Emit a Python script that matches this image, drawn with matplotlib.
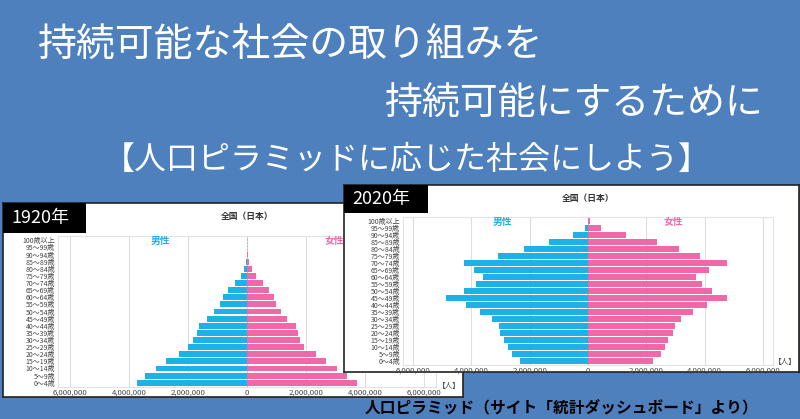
### population pyramid slide: 1920 vs 2020 (Japan)
import numpy as np
import matplotlib
matplotlib.use('Agg')
import matplotlib.pyplot as plt
from matplotlib.ticker import FuncFormatter

plt.rcParams['font.family'] = ['Noto Sans CJK JP', 'DejaVu Sans']

# age groups, bottom to top
ages = ['0～4歳', '5～9歳', '10～14歳', '15～19歳', '20～24歳', '25～29歳',
        '30～34歳', '35～39歳', '40～44歳', '45～49歳', '50～54歳', '55～59歳',
        '60～64歳', '65～69歳', '70～74歳', '75～79歳', '80～84歳', '85～89歳',
        '90～94歳', '95～99歳', '100歳以上']

# populations in millions
male_1920 = [3.74, 3.46, 3.08, 2.74, 2.31, 2.00, 1.83, 1.71, 1.63, 1.34, 1.13,
             0.92, 0.82, 0.63, 0.42, 0.21, 0.10, 0.03, 0.01, 0.005, 0.002]
female_1920 = [3.72, 3.40, 3.04, 2.68, 2.32, 1.94, 1.80, 1.74, 1.65, 1.35, 1.16,
               0.97, 0.90, 0.74, 0.55, 0.32, 0.16, 0.07, 0.03, 0.01, 0.003]
male_2020 = [2.33, 2.61, 2.74, 2.88, 3.02, 3.07, 3.30, 3.70, 4.18, 4.86, 4.27,
             3.85, 3.60, 3.91, 4.25, 3.09, 2.21, 1.33, 0.53, 0.11, 0.01]
female_2020 = [2.23, 2.49, 2.63, 2.74, 2.91, 2.97, 3.19, 3.60, 4.10, 4.78, 4.25,
               3.91, 3.69, 4.15, 4.77, 3.83, 3.11, 2.38, 1.31, 0.43, 0.07]

xticks = [-6e6, -4e6, -2e6, 0, 2e6, 4e6, 6e6]

BG = '#4E80BE'
BLUE = '#1DB1E8'
PINK = '#F068A8'
W, H = 800, 419

fig = plt.figure(figsize=(W / 100, H / 100), dpi=100, facecolor=BG)


def px(x0, y0, x1, y1):
    # pixel box (top-left origin) -> figure fraction rect
    return [x0 / W, 1 - y1 / H, (x1 - x0) / W, (y1 - y0) / H]


def panel(box, plotbox, label_box, label, male, female, xlim, ren_xy, title_y):
    bg = fig.add_axes(px(*box))
    bg.set_facecolor('white')
    bg.set_xticks([])
    bg.set_yticks([])
    for s in bg.spines.values():
        s.set_color('#222222')
        s.set_linewidth(1.2)

    ax = fig.add_axes(px(*plotbox))
    y = np.arange(len(ages))
    ax.barh(y, -np.array(male) * 1e6, height=0.82, color=BLUE, zorder=3)
    ax.barh(y, np.array(female) * 1e6, height=0.82, color=PINK, zorder=3)
    ax.set_xlim(-xlim, xlim)
    ax.set_ylim(-0.6, len(ages) - 0.4)
    ax.set_xticks(xticks)
    ax.xaxis.set_major_formatter(FuncFormatter(lambda v, p: f'{abs(v):,.0f}'))
    ax.set_yticks(y)
    ax.set_yticklabels(ages)
    ax.tick_params(length=0, labelcolor='#444444', pad=1.5)
    ax.tick_params(axis='x', labelsize=5.6)
    ax.tick_params(axis='y', labelsize=5.0, pad=2)
    ax.grid(axis='x', color='#DDDDDD', linewidth=0.8, zorder=0)
    ax.axvline(0, color='#BBBBBB', linewidth=0.8, linestyle=(0, (2, 1)), zorder=2)
    for s in ax.spines.values():
        s.set_color('#E2E2E2')
        s.set_linewidth(0.8)
    ax.text(0.27, 0.965, '男性', transform=ax.transAxes, color=BLUE,
            fontsize=7, fontweight='bold', ha='center', va='center')
    ax.text(0.73, 0.965, '女性', transform=ax.transAxes, color=PINK,
            fontsize=7, fontweight='bold', ha='center', va='center')

    cx = (plotbox[0] + plotbox[2]) / 2
    fig.text(cx / W, 1 - title_y / H, '全国（日本）', fontsize=6.3,
             fontweight='bold', color='#333333', ha='center', va='center')
    fig.text(ren_xy[0] / W, 1 - ren_xy[1] / H, '【人】', fontsize=5.5,
             color='#444444', ha='center', va='center')

    lb = fig.add_axes(px(*label_box))
    lb.set_facecolor('black')
    lb.set_xticks([])
    lb.set_yticks([])
    for s in lb.spines.values():
        s.set_visible(False)
    lb.text(0.1, 0.5, label, color='white', fontsize=13, ha='left',
            va='center', transform=lb.transAxes)


panel((3, 203, 463, 397), (58, 236, 436, 387), (3, 203, 86, 233), '1920年',
      male_1920, female_1920, 6.4e6, (449, 386), 216)
panel((344, 185, 799, 372), (403, 217, 773, 365), (344, 185, 428, 213), '2020年',
      male_2020, female_2020, 6.35e6, (785, 362), 198)

# slide titles
fig.text(38 / W, 1 - 45 / H, '持続可能な社会の取り組みを', color='white',
         fontsize=28, ha='left', va='center')
fig.text(385 / W, 1 - 103 / H, '持続可能にするために', color='white',
         fontsize=27.3, ha='left', va='center')
fig.text(103 / W, 1 - 160 / H, '【人口ピラミッドに応じた社会にしよう】', color='white',
         fontsize=23, ha='left', va='center')
fig.text(365 / W, 1 - 408 / H, '人口ピラミッド（サイト「統計ダッシュボード」より）',
         color='black', fontsize=11.3, fontweight='bold', ha='left', va='center')

plt.savefig('out.png', dpi=100, facecolor=BG)
